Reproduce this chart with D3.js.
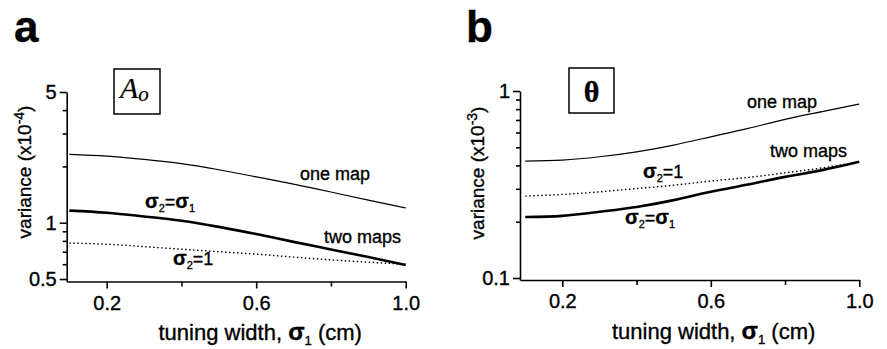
<!DOCTYPE html>
<html>
<head>
<meta charset="utf-8">
<script src="https://cdn.jsdelivr.net/npm/d3@7/dist/d3.min.js"></script>
<style>
  html, body { margin: 0; padding: 0; background: #fff; }
  svg { display: block; }
  text { font-family: "Liberation Sans", Arial, Helvetica, sans-serif; fill: #000; stroke: #000; stroke-width: 0.35px; }
</style>
</head>
<body>
<svg id="chart" width="887" height="349"></svg>
<script>
// ---------- data ----------
const sigma1 = [0.1, 0.2, 0.3, 0.4, 0.5, 0.6, 0.7, 0.8, 0.9, 1.0];

// panel a : amplitude A_o, variance (x10^-4)
const aOneMap      = [2.32, 2.27, 2.18, 2.07, 1.92, 1.76, 1.61, 1.46, 1.32, 1.20];
const aTwoMapsEq   = [1.16, 1.13, 1.08, 1.025, 0.95, 0.87, 0.79, 0.72, 0.655, 0.594]; // sigma2 = sigma1
const aTwoMapsOne  = [0.778, 0.768, 0.745, 0.722, 0.70, 0.679, 0.655, 0.633, 0.615, 0.60]; // sigma2 = 1

// panel b : orientation theta, variance (x10^-3)
const bOneMap      = [0.422, 0.427, 0.445, 0.473, 0.514, 0.569, 0.631, 0.705, 0.775, 0.852];
const bTwoMapsEq   = [0.212, 0.215, 0.226, 0.24, 0.261, 0.289, 0.316, 0.3475, 0.3775, 0.418];
const bTwoMapsOne  = [0.274, 0.280, 0.289, 0.301, 0.3135, 0.330, 0.345, 0.365, 0.388, 0.418];

const xMajorTicks = [0.2, 0.6, 1.0];
const xMinorTicks = [0.4, 0.8];
const xTickLabels = ["0.2", "0.6", "1.0"];

const aYMajorTicks = [0.5, 1, 5];
const aYMinorTicks = [0.6, 0.7, 0.8, 0.9, 2, 3, 4];
const aYTickLabels = ["0.5", "1", "5"];

const bYMajorTicks = [0.1, 1];
const bYMinorTicks = [0.2, 0.3, 0.4, 0.5, 0.6, 0.7, 0.8, 0.9];
const bYTickLabels = ["0.1", "1"];

// ---------- drawing ----------
const svg = d3.select("#chart");

function sigmaLabel(g, x, y, second) {
  const t = g.append("text").attr("x", x).attr("y", y)
    .style("font-size", "18px");
  t.append("tspan").text("σ").style("font-weight", "bold").style("font-size", "20px");
  t.append("tspan").text("2").style("font-size", "11px").attr("dy", 4);
  t.append("tspan").text("=").attr("dy", -4);
  if (second === "s1") {
    t.append("tspan").text("σ").style("font-weight", "bold").style("font-size", "20px");
    t.append("tspan").text("1").style("font-size", "11px").attr("dy", 4);
  } else {
    t.append("tspan").text("1");
  }
}

function drawPanel(cfg) {
  const g = svg.append("g");
  const x = d3.scaleLinear().domain(cfg.xDomain).range(cfg.xRange);
  const y = d3.scaleLog().domain(cfg.yDomain).range(cfg.yRange);

  // x axis
  const xAxisY = cfg.yRange[0];
  const gx = g.append("g").attr("transform", `translate(0,${xAxisY})`)
    .call(d3.axisBottom(x).tickValues(xMajorTicks).tickSize(7).tickSizeOuter(0)
      .tickPadding(7)
      .tickFormat((d, i) => xTickLabels[i]));
  gx.selectAll("text").style("font-size", "20px");
  const gxm = g.append("g").attr("transform", `translate(0,${xAxisY})`)
    .call(d3.axisBottom(x).tickValues(xMinorTicks).tickSize(5).tickSizeOuter(0).tickFormat(""));
  gxm.select(".domain").remove();

  // y axis
  const yAxisX = cfg.xRange[0];
  const gy = g.append("g").attr("transform", `translate(${yAxisX},0)`)
    .call(d3.axisLeft(y).tickValues(cfg.yMajor).tickSize(7).tickSizeOuter(0)
      .tickPadding(3)
      .tickFormat((d, i) => cfg.yLabels[i]));
  gy.selectAll("text").style("font-size", "20px");
  const gym = g.append("g").attr("transform", `translate(${yAxisX},0)`)
    .call(d3.axisLeft(y).tickValues(cfg.yMinor).tickSize(4).tickSizeOuter(0).tickFormat(""));
  gym.select(".domain").remove();

  g.selectAll(".domain, .tick line").attr("stroke", "#000").attr("stroke-width", 1.6);

  // curves
  const line = d3.line().x((d, i) => x(sigma1[i])).y(d => y(d)).curve(d3.curveNatural);
  g.append("path").datum(cfg.oneMap).attr("d", line)
    .attr("fill", "none").attr("stroke", "#000").attr("stroke-width", 1.2);
  g.append("path").datum(cfg.twoEq).attr("d", line)
    .attr("fill", "none").attr("stroke", "#000").attr("stroke-width", 2.6);
  g.append("path").datum(cfg.twoOne).attr("d", line)
    .attr("fill", "none").attr("stroke", "#000").attr("stroke-width", 1.4)
    .attr("stroke-dasharray", "1.5,2.5");

  // axis titles
  const t = g.append("text")
    .attr("x", (cfg.xRange[0] + cfg.xRange[1]) / 2 + cfg.xTitleDx)
    .attr("y", cfg.xTitleY)
    .attr("text-anchor", "middle")
    .style("font-size", "22px");
  t.append("tspan").text("tuning width, ");
  t.append("tspan").text("σ").style("font-weight", "bold").style("font-size", "24px");
  t.append("tspan").text("1").style("font-size", "13px").attr("dy", 5);
  t.append("tspan").text(" (cm)").attr("dy", -5);

  const yt = g.append("text")
    .attr("transform", `translate(${cfg.yTitleX},${cfg.yTitleY}) rotate(-90)`)
    .attr("text-anchor", "middle")
    .style("font-size", "19px");
  yt.append("tspan").text("variance (x10");
  yt.append("tspan").text(cfg.exp).style("font-size", "14px").attr("dy", -7);
  yt.append("tspan").text(")").attr("dy", 7);

  // panel letter
  g.append("text").attr("x", cfg.letterX).attr("y", 42)
    .style("font-size", "44px").style("font-weight", "bold").text(cfg.letter);

  return { g, x, y };
}

// ---------- panel a ----------
const pa = drawPanel({
  xDomain: [0.093, 1.0], xRange: [66.7, 405.7],
  yDomain: [0.485, 5], yRange: [281.5, 92],
  yMajor: aYMajorTicks, yMinor: aYMinorTicks, yLabels: aYTickLabels,
  oneMap: aOneMap, twoEq: aTwoMapsEq, twoOne: aTwoMapsOne,
  xTitleDx: 24, xTitleY: 340, yTitleX: 31, yTitleY: 172, exp: "-4",
  letter: "a", letterX: 14
});
pa.g.append("rect").attr("x", 114).attr("y", 69).attr("width", 46).attr("height", 45)
  .attr("fill", "none").attr("stroke", "#000").attr("stroke-width", 1.5);
const ao = pa.g.append("text").attr("x", 120).attr("y", 98)
  .style("font-family", "'Liberation Serif', 'Times New Roman', serif").style("font-style", "italic")
  .style("stroke-width", "0.2px");
ao.append("tspan").text("A").style("font-size", "30px");
ao.append("tspan").text("o").style("font-size", "21px").attr("dy", 3);

pa.g.append("text").attr("x", 300).attr("y", 180).style("font-size", "18px").text("one map");
pa.g.append("text").attr("x", 324).attr("y", 243).style("font-size", "18px").text("two maps");
sigmaLabel(pa.g, 145, 208, "s1");
sigmaLabel(pa.g, 173, 265, "one");

// ---------- panel b ----------
const pb = drawPanel({
  xDomain: [0.086, 1.0], xRange: [520, 859.3],
  yDomain: [0.0976, 1], yRange: [280, 91],
  yMajor: bYMajorTicks, yMinor: bYMinorTicks, yLabels: bYTickLabels,
  oneMap: bOneMap, twoEq: bTwoMapsEq, twoOne: bTwoMapsOne,
  xTitleDx: 24, xTitleY: 339, yTitleX: 484, yTitleY: 173, exp: "-3",
  letter: "b", letterX: 466
});
pb.g.append("rect").attr("x", 569).attr("y", 68).attr("width", 45).attr("height", 45)
  .attr("fill", "none").attr("stroke", "#000").attr("stroke-width", 1.5);
pb.g.append("text").attr("x", 591.5).attr("y", 102).attr("text-anchor", "middle")
  .style("font-family", "'Liberation Serif', 'Times New Roman', serif")
  .style("font-weight", "bold").style("font-size", "30px").text("θ");

pb.g.append("text").attr("x", 747).attr("y", 108).style("font-size", "18px").text("one map");
pb.g.append("text").attr("x", 770).attr("y", 157).style("font-size", "18px").text("two maps");
sigmaLabel(pb.g, 643, 178, "one");
sigmaLabel(pb.g, 625, 224, "s1");
</script>
</body>
</html>
